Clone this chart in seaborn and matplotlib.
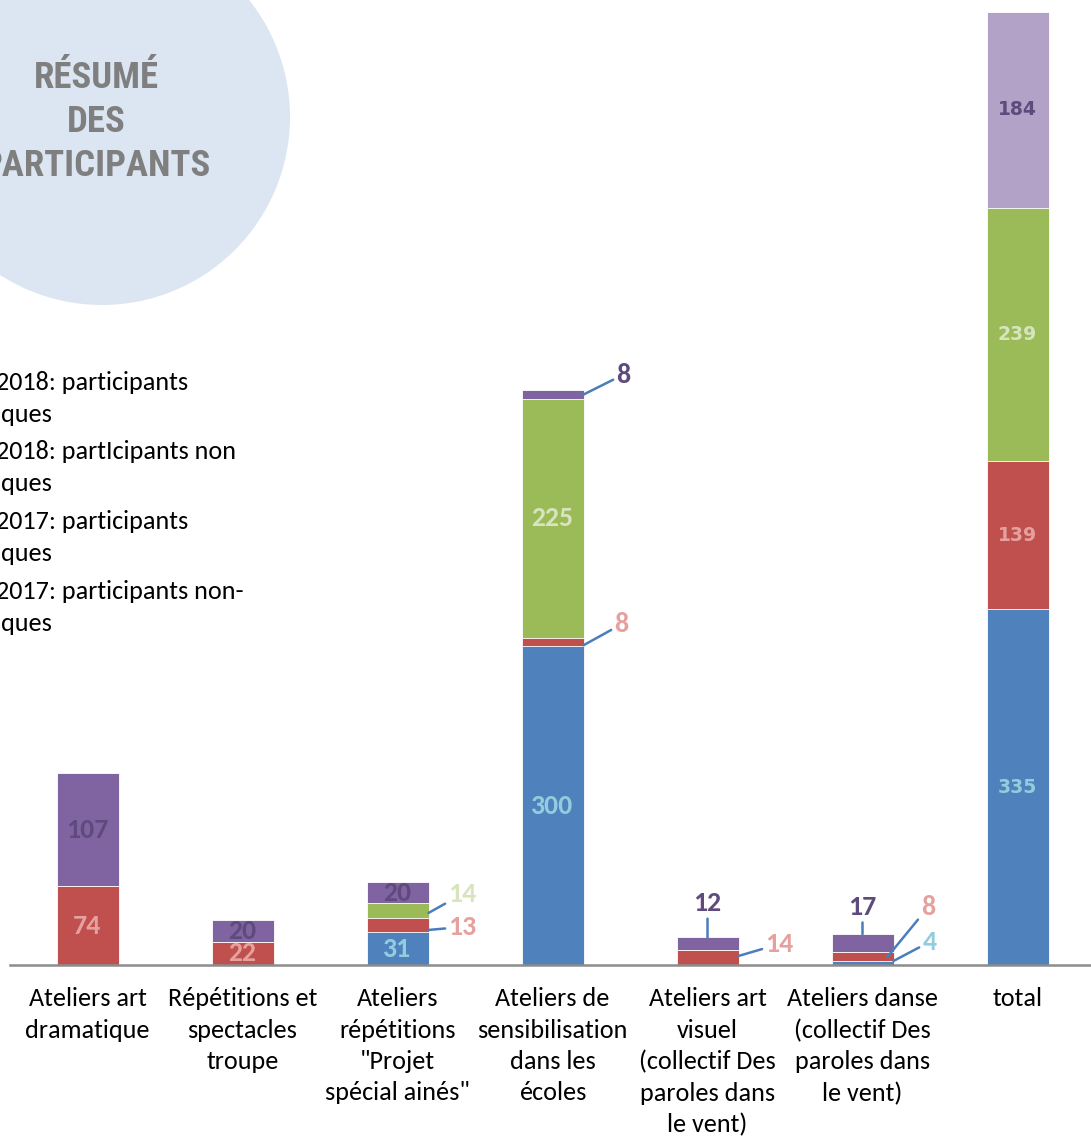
import numpy as np
import pandas as pd
import seaborn as sns
import matplotlib.pyplot as plt
from matplotlib.patches import Circle
from matplotlib.transforms import IdentityTransform

# ===================== data =====================
categories = [
    "Ateliers art\ndramatique",
    "Répétitions et\nspectacles\ntroupe",
    "Ateliers\nrépétitions\n\"Projet\nspécial ainés\"",
    "Ateliers de\nsensibilisation\ndans les\nécoles",
    "Ateliers art\nvisuel\n(collectif Des\nparoles dans\nle vent)",
    "Ateliers danse\n(collectif Des\nparoles dans\nle vent)",
    "total",
]
s2018_a = [0, 0, 31, 300, 0, 4, 335]      # blue
s2018_b = [74, 22, 13, 8, 14, 8, 139]     # red
s2017_a = [0, 0, 14, 225, 0, 0, 239]      # green
s2017_b = [107, 20, 20, 8, 12, 17, 184]   # purple
legend_lines = [
    ("2018: participants", "ques"),
    ("2018: partIcipants non", "ques"),
    ("2017: participants", "ques"),
    ("2017: participants non-", "ques"),
]
title_text = "RÉSUMÉ\nDES\nPARTICIPANTS"

# ===================== style =====================
bar_colors = ["#4F81BD", "#C0504D", "#9BBB59", "#8064A2"]
total_purple = "#B3A2C7"
label_colors = ["#93CDDD", "#E6A19F", "#D7E4BD", "#5F4A7D"]
lead_color = "#4A7EBB"
FONT = ["Carlito", "DejaVu Sans"]

sns.set_style("white")
plt.rcParams["font.family"] = FONT

df = pd.DataFrame({"cat": categories, "blue": s2018_a, "red": s2018_b,
                   "green": s2017_a, "purple": s2017_b})
series = ["blue", "red", "green", "purple"]
cum = df[series].cumsum(axis=1)

W, H = 1091, 1141
fig = plt.figure(figsize=(W / 100, H / 100), dpi=100)
ax = fig.add_axes([10 / W, 176 / H, 1085 / W, 955 / H])
ax.patch.set_visible(False)

# background circle + title
circ = Circle((102, H - 117), 188, transform=IdentityTransform(),
              facecolor="#DCE6F2", edgecolor="none", zorder=0)
fig.add_artist(circ)
fig.text(96 / W, 1 - 122 / H, title_text, ha="center", va="center",
         fontsize=26.5, fontweight=700, color="#7F7F7F", linespacing=1.3,
         family=["Roboto Condensed", "DejaVu Sans"], zorder=1)

# stacked bars (drawn top-down as cumulative totals)
for k in range(3, -1, -1):
    pal = [bar_colors[k]] * len(categories)
    if k == 3:
        pal[-1] = total_purple
    sns.barplot(x=df["cat"], y=cum[series[k]], hue=df["cat"], palette=pal,
                order=categories, hue_order=categories, legend=False,
                width=0.4, edgecolor="white", linewidth=0.6, saturation=1,
                ax=ax, zorder=2)

ax.set_xlim(-0.5, 6.5)
ax.set_ylim(0, 899)
ax.set_xlabel("")
ax.set_ylabel("")
ax.set_yticks([])
sns.despine(ax=ax, left=True)
ax.spines["bottom"].set_color("#8C8C8C")
ax.spines["bottom"].set_linewidth(1.8)
ax.set_xticks(range(len(categories)))
ax.set_xticklabels(categories, fontsize=18.8, linespacing=1.44)
ax.set_xticks(np.arange(-0.5, len(categories), 1), minor=True)
ax.tick_params(axis="x", which="major", length=0, pad=16, colors="black")
ax.tick_params(axis="x", which="minor", length=9, width=1.8,
               color="#8C8C8C", direction="out")

# data labels
outside = {
    (2, 1): (2.2, 33, 34, 3),
    (2, 2): (2.2, 49, 34, 19),
    (3, 1): (3.2, 301, 38, 21),
    (3, 3): (3.2, 537, 40, 20),
    (4, 1): (4.2, 8.5, 41, 12),
    (4, 3): (4.0, 26, 0, 34),
    (5, 3): (5.0, 29, 0, 27),
    (5, 1): (5.16, 7.5, 41, 50),
    (5, 0): (5.2, 3.8, 36, 19),
}
for i in range(len(categories)):
    base = 0
    for k, s in enumerate(series):
        v = df[s][i]
        if v == 0:
            continue
        if (i, k) in outside:
            x0, y0, dx, dy = outside[(i, k)]
            ax.annotate(str(v), xy=(x0, y0), xytext=(dx, dy),
                        textcoords="offset pixels", ha="center", va="center",
                        fontsize=20, fontweight=700, color=label_colors[k],
                        arrowprops=dict(arrowstyle="-", color=lead_color,
                                        lw=1.8, shrinkA=0, shrinkB=0),
                        zorder=4)
        elif i == len(categories) - 1:
            ax.text(i, base + v / 2, str(v), ha="center", va="center",
                    fontsize=13.5, fontweight="bold", color=label_colors[k],
                    family="DejaVu Sans", zorder=4)
        else:
            ax.text(i, base + v / 2, str(v), ha="center", va="center",
                    fontsize=20, fontweight=700, color=label_colors[k],
                    zorder=4)
        base += v

# legend text (markers fall outside the picture)
for j, (l1, l2) in enumerate(legend_lines):
    y1 = 382 + j * 69.7
    fig.text(-4 / W, 1 - y1 / H, l1, ha="left", va="center", fontsize=18.8,
             color="black")
    fig.text(1 / W, 1 - (y1 + 32) / H, l2, ha="left", va="center",
             fontsize=18.8, color="black")

fig.savefig("out.png", dpi=100)
